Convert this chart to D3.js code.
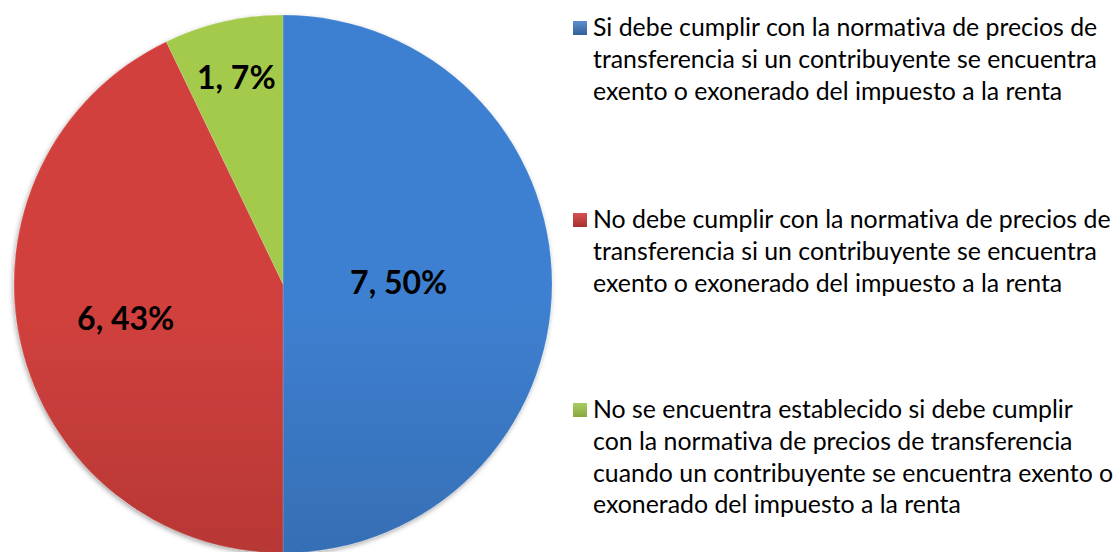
<!DOCTYPE html>
<html>
<head>
<meta charset="utf-8">
<script src="https://cdn.jsdelivr.net/npm/d3@7"></script>
<style>
  html, body { margin: 0; padding: 0; background: #fff; }
  svg { display: block; }
  text { font-variant-ligatures: none; }
</style>
</head>
<body>
<svg id="chart"></svg>
<script>
// data
var categories = [
  "Si debe cumplir con la normativa de precios de transferencia si un contribuyente se encuentra exento o exonerado del impuesto a la renta",
  "No debe cumplir con la normativa de precios de transferencia si un contribuyente se encuentra exento o exonerado del impuesto a la renta",
  "No se encuentra establecido si debe cumplir con la normativa de precios de transferencia cuando un contribuyente se encuentra exento o exonerado del impuesto a la renta"
];
var values = [7, 6, 1];
var legendLines = [
  ["Si debe cumplir con la normativa de precios de", "transferencia si un contribuyente se encuentra", "exento o exonerado del impuesto a la renta"],
  ["No debe cumplir con la normativa de precios de", "transferencia si un contribuyente se encuentra", "exento o exonerado del impuesto a la renta"],
  ["No se encuentra establecido si debe cumplir", "con la normativa de precios de transferencia", "cuando un contribuyente se encuentra exento o", "exonerado del impuesto a la renta"]
];

var W = 1118, H = 552;
var cx = 283, cy = 284, R = 269;

// slice gradients (top colour, bottom colour)
var grads = [
  ["#3e80d1", "#2c5b96"],
  ["#d2413e", "#9a2c2a"],
  ["#a4ca4c", "#6f8e30"]
];
var legendColors = [["#5b8fd0", "#345f98"], ["#d65350", "#a6302d"], ["#a9cc62", "#86a83e"]];
// where each label sits, as a fraction of the radius
var labelFrac = [0.43, 0.6, 0.78];

var svg = d3.select("#chart").attr("width", W).attr("height", H);
var defs = svg.append("defs");

grads.forEach(function(g, i){
  var lg = defs.append("linearGradient")
    .attr("id", "grad" + i)
    .attr("gradientUnits", "userSpaceOnUse")
    .attr("x1", 0).attr("y1", cy - R).attr("x2", 0).attr("y2", cy + R);
  lg.append("stop").attr("offset", "0%").attr("stop-color", g[0]);
  lg.append("stop").attr("offset", "100%").attr("stop-color", g[1]);
});
legendColors.forEach(function(g, i){
  var lg = defs.append("linearGradient")
    .attr("id", "lgrad" + i)
    .attr("x1", 0).attr("y1", 0).attr("x2", 0).attr("y2", 1);
  lg.append("stop").attr("offset", "0%").attr("stop-color", g[0]);
  lg.append("stop").attr("offset", "100%").attr("stop-color", g[1]);
});

var f = defs.append("filter").attr("id", "shadow")
  .attr("x", "-10%").attr("y", "-10%").attr("width", "120%").attr("height", "120%");
f.append("feDropShadow")
  .attr("dx", -1).attr("dy", 2).attr("stdDeviation", 2.5)
  .attr("flood-color", "#000").attr("flood-opacity", 0.35);

var pie = d3.pie().sort(null).value(function(d){ return d; });
var arcs = pie(values);
var arc = d3.arc().innerRadius(0).outerRadius(R);
var total = d3.sum(values);

var g = svg.append("g").attr("transform", "translate(" + cx + "," + cy + ")");

g.append("g").attr("filter", "url(#shadow)")
  .selectAll("path")
  .data(arcs)
  .enter()
  .append("path")
  .attr("d", arc)
  .attr("fill", function(d, i){ return "url(#grad" + i + ")"; })
  .attr("stroke", "rgba(255,255,255,0.25)")
  .attr("stroke-width", 0.6);

// data labels
g.selectAll("text.lbl")
  .data(arcs)
  .enter()
  .append("text")
  .attr("class", "lbl")
  .attr("transform", function(d, i){
    var r = R * labelFrac[i];
    var c = d3.arc().innerRadius(r).outerRadius(r).centroid(d);
    return "translate(" + c[0] + "," + c[1] + ")";
  })
  .attr("text-anchor", "middle")
  .attr("dy", "0.3em")
  .style("font-family", "Lato, 'Open Sans', sans-serif")
  .style("font-weight", "bold")
  .style("font-size", "32px")
  .style("fill", "#000")
  .text(function(d){ return d.data + ", " + Math.round(d.data / total * 100) + "%"; });

// legend
var legendX = 573, textX = 593;
var firstBaseline = [36, 228, 418];
var lineH = 31.8;

var leg = svg.append("g").attr("class", "legend")
  .style("font-family", "Lato, 'Open Sans', sans-serif")
  .style("fill", "#000");

// fit legend font to the reference line width
var probe = leg.append("text").style("font-size", "20px").text(legendLines[0][1]);
var fs = 20 * 504 / probe.node().getComputedTextLength();
probe.remove();

legendLines.forEach(function(lines, i){
  var item = leg.append("g").attr("class", "item").datum(categories[i]);
  item.append("rect")
    .attr("x", legendX).attr("y", firstBaseline[i] - 15)
    .attr("width", 14).attr("height", 14)
    .attr("fill", "url(#lgrad" + i + ")");
  var t = item.append("text").style("font-size", fs + "px");
  t.selectAll("tspan")
    .data(lines)
    .enter()
    .append("tspan")
    .attr("x", textX)
    .attr("y", function(d, j){ return firstBaseline[i] + j * lineH; })
    .text(function(d){ return d; });
});
</script>
</body>
</html>
